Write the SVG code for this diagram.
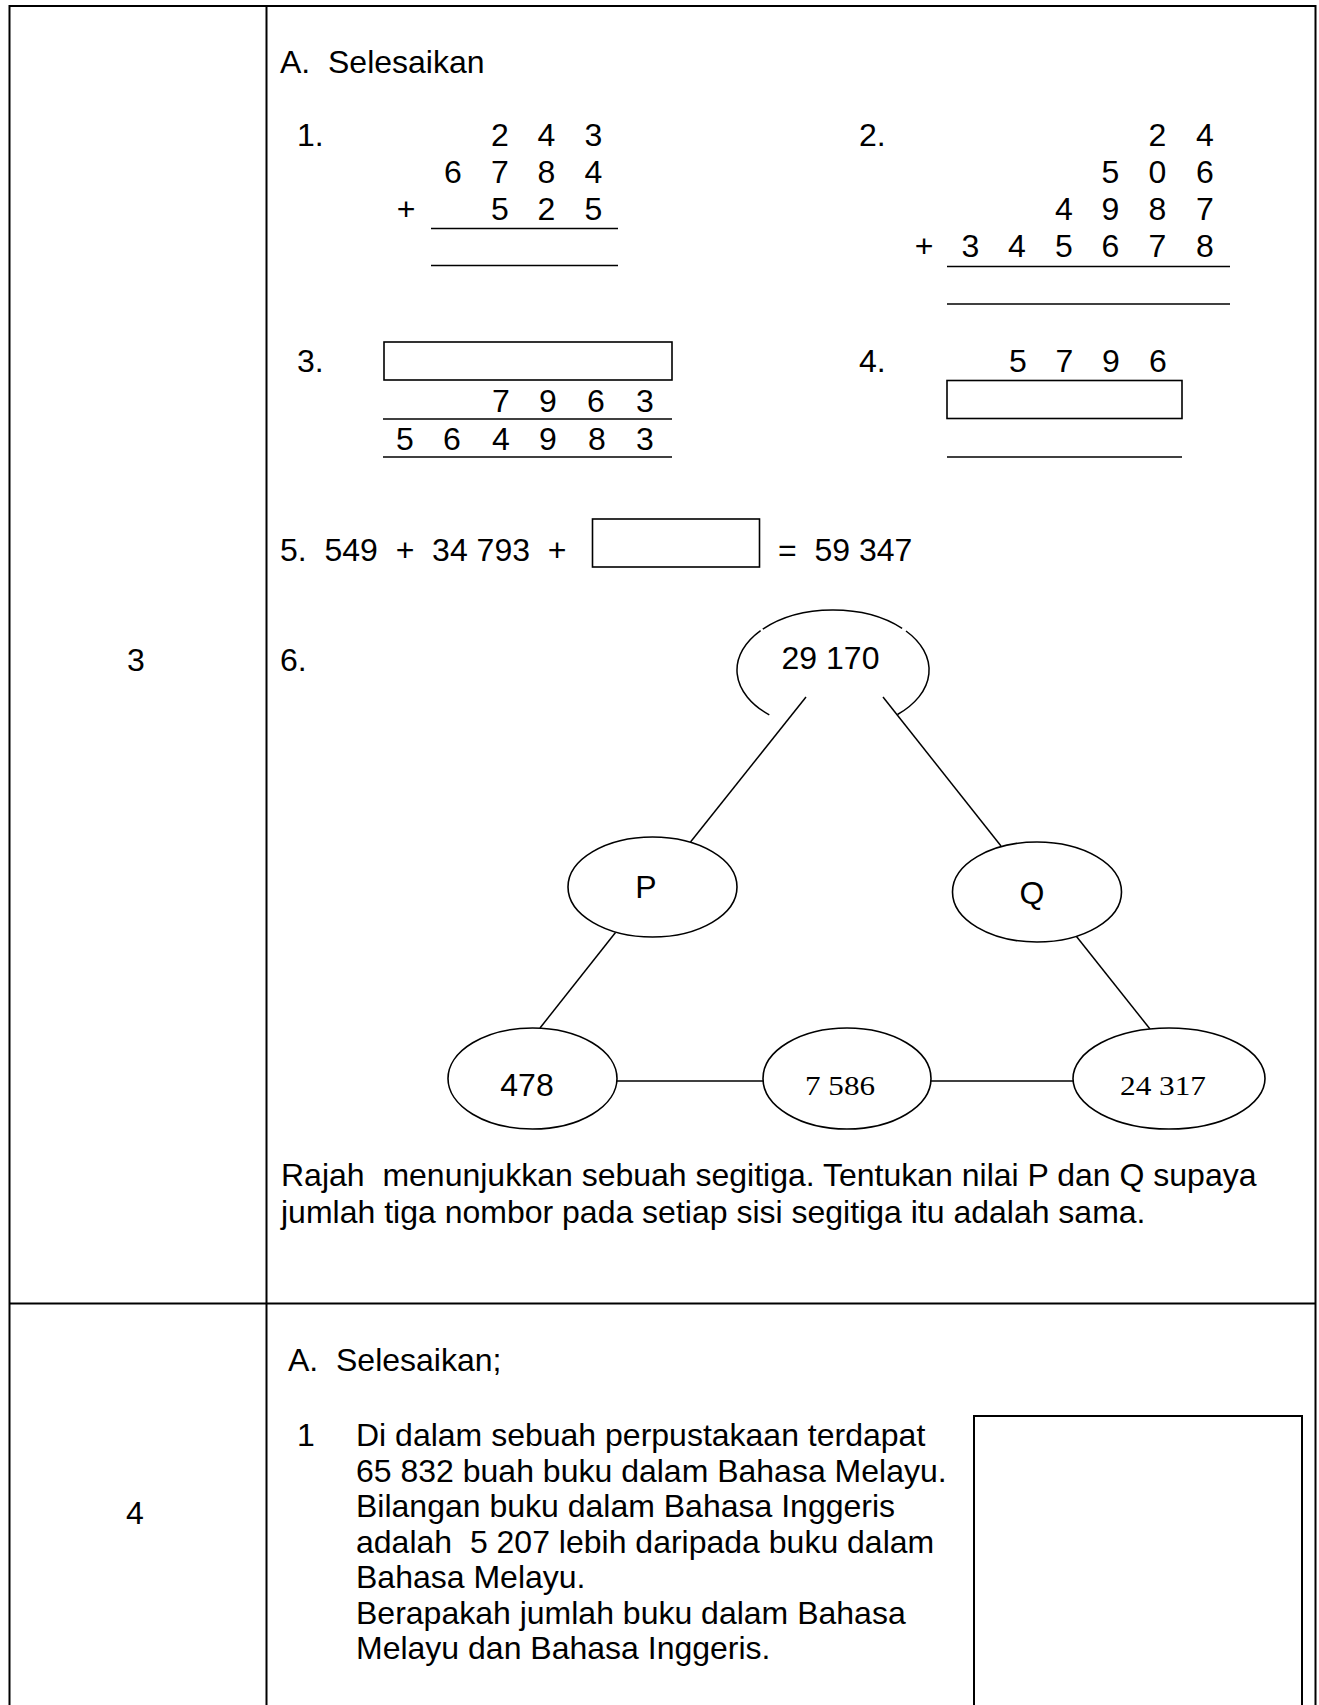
<svg xmlns="http://www.w3.org/2000/svg" width="1319" height="1705" viewBox="0 0 1319 1705">
<style>
.t{font-family:"Liberation Sans",Arial,sans-serif;font-size:32px;fill:#000;white-space:pre}
.m{text-anchor:middle}
.s{font-family:"Liberation Serif","Times New Roman",serif;font-size:28px;fill:#000;text-anchor:middle}
.ln{stroke:#000;stroke-width:2;fill:none}
.th{stroke:#000;stroke-width:1.6;fill:none}
.bx{stroke:#000;stroke-width:1.6;fill:#fff}
.el{stroke:#000;stroke-width:1.6;fill:#fff}
.cn{stroke:#000;stroke-width:1.5;fill:none}
</style>
<rect x="0" y="0" width="1319" height="1705" fill="#fff"/>
<g id="table">
<line class="ln" x1="9.5" y1="6" x2="1315.5" y2="6"/>
<line class="ln" x1="9.5" y1="5" x2="9.5" y2="1705"/>
<line class="ln" x1="266.5" y1="5" x2="266.5" y2="1705"/>
<line class="ln" x1="1315.5" y1="5" x2="1315.5" y2="1705"/>
<line class="ln" x1="9.5" y1="1303.5" x2="1315.5" y2="1303.5"/>
<text class="t m" x="136" y="671">3</text>
<text class="t m" x="135" y="1524">4</text>
</g>
<g id="row3">
<text class="t" x="280" y="73">A.  Selesaikan</text>
<g id="q1">
<text class="t" x="297" y="146">1.</text>
<text class="t m" x="500" y="146">2</text><text class="t m" x="546.5" y="146">4</text><text class="t m" x="593.5" y="146">3</text>
<text class="t m" x="453" y="183">6</text><text class="t m" x="500" y="183">7</text><text class="t m" x="546.5" y="183">8</text><text class="t m" x="593.5" y="183">4</text>
<text class="t m" x="406" y="219.5">+</text>
<text class="t m" x="500" y="219.5">5</text><text class="t m" x="546.5" y="219.5">2</text><text class="t m" x="593.5" y="219.5">5</text>
<line class="th" x1="431" y1="228.5" x2="618" y2="228.5"/>
<line class="th" x1="431" y1="265.5" x2="618" y2="265.5"/>
</g>
<g id="q2">
<text class="t" x="859" y="146">2.</text>
<text class="t m" x="1157.5" y="146">2</text><text class="t m" x="1205" y="146">4</text>
<text class="t m" x="1110.5" y="183">5</text><text class="t m" x="1157.5" y="183">0</text><text class="t m" x="1205" y="183">6</text>
<text class="t m" x="1064" y="219.5">4</text><text class="t m" x="1110.5" y="219.5">9</text><text class="t m" x="1157.5" y="219.5">8</text><text class="t m" x="1205" y="219.5">7</text>
<text class="t m" x="924" y="257">+</text>
<text class="t m" x="970.5" y="257">3</text><text class="t m" x="1017" y="257">4</text><text class="t m" x="1064" y="257">5</text><text class="t m" x="1110.5" y="257">6</text><text class="t m" x="1157.5" y="257">7</text><text class="t m" x="1205" y="257">8</text>
<line class="th" x1="947" y1="266.5" x2="1230" y2="266.5"/>
<line class="th" x1="947" y1="304" x2="1230" y2="304"/>
</g>
<g id="q3">
<text class="t" x="297" y="372">3.</text>
<rect class="bx" x="384" y="342" width="288" height="38"/>
<text class="t m" x="501" y="412">7</text><text class="t m" x="548" y="412">9</text><text class="t m" x="596" y="412">6</text><text class="t m" x="645" y="412">3</text>
<line class="th" x1="383" y1="419" x2="672" y2="419"/>
<text class="t m" x="405" y="450">5</text><text class="t m" x="452" y="450">6</text><text class="t m" x="501" y="450">4</text><text class="t m" x="548" y="450">9</text><text class="t m" x="597" y="450">8</text><text class="t m" x="645" y="450">3</text>
<line class="th" x1="383" y1="457" x2="672" y2="457"/>
</g>
<g id="q4">
<text class="t" x="859" y="372">4.</text>
<text class="t m" x="1018" y="372">5</text><text class="t m" x="1064.5" y="372">7</text><text class="t m" x="1111" y="372">9</text><text class="t m" x="1158" y="372">6</text>
<rect class="bx" x="947" y="380.5" width="235" height="38"/>
<line class="th" x1="947" y1="457" x2="1182" y2="457"/>
</g>
<g id="q5">
<text class="t" x="280" y="561">5.  549  +  34 793  +</text>
<rect class="bx" x="592.5" y="519" width="167" height="48"/>
<text class="t" x="778" y="561">=  59 347</text>
</g>
<text class="t" x="280" y="671">6.</text>
<g id="connectors">
<line class="cn" x1="806" y1="697" x2="690.5" y2="842"/>
<line class="cn" x1="883" y1="697" x2="1001" y2="846"/>
<line class="cn" x1="615.5" y1="932.5" x2="540" y2="1028"/>
<line class="cn" x1="1076.5" y1="936.5" x2="1150" y2="1029"/>
<line class="cn" x1="617" y1="1081" x2="763" y2="1081" stroke-width="2"/>
<line class="cn" x1="931" y1="1081" x2="1073" y2="1081" stroke-width="2"/>
</g>
<g id="node-top">
<path class="cn" d="M769.3,714.9 A96,60 0 0 1 760.6,630.6"/>
<path class="cn" d="M762.8,629.1 A96,60 0 0 1 902.1,628.3"/>
<path class="cn" d="M906,631 A96,60 0 0 1 897.5,714.5"/>
<text class="t m" x="830.5" y="669">29 170</text>
</g>
<g id="node-p">
<ellipse class="el" cx="652.5" cy="887" rx="84.5" ry="50"/>
<text class="t m" x="646" y="898">P</text>
</g>
<g id="node-q">
<ellipse class="el" cx="1037" cy="892" rx="84.5" ry="50"/>
<text class="t m" x="1032" y="904">Q</text>
</g>
<g id="node-478">
<ellipse class="el" cx="532.5" cy="1078.5" rx="84.5" ry="50.5"/>
<text class="t m" x="527" y="1096">478</text>
</g>
<g id="node-7586">
<ellipse class="el" cx="847" cy="1078.5" rx="84" ry="50.5"/>
<text class="s" x="840" y="1095" textLength="70" lengthAdjust="spacingAndGlyphs">7 586</text>
</g>
<g id="node-24317">
<ellipse class="el" cx="1169" cy="1078.5" rx="96" ry="50.5"/>
<text class="s" x="1163" y="1095" textLength="86" lengthAdjust="spacingAndGlyphs">24 317</text>
</g>
<text class="t" x="281" y="1186">Rajah  menunjukkan sebuah segitiga. Tentukan nilai P dan Q supaya</text>
<text class="t" x="281" y="1223">jumlah tiga nombor pada setiap sisi segitiga itu adalah sama.</text>
</g>
<g id="row4">
<text class="t" x="288" y="1371">A.  Selesaikan;</text>
<text class="t" x="297" y="1446">1</text>
<text class="t" x="356" y="1446">Di dalam sebuah perpustakaan terdapat</text>
<text class="t" x="356" y="1481.5">65 832 buah buku dalam Bahasa Melayu.</text>
<text class="t" x="356" y="1517">Bilangan buku dalam Bahasa Inggeris</text>
<text class="t" x="356" y="1552.5">adalah  5 207 lebih daripada buku dalam</text>
<text class="t" x="356" y="1588">Bahasa Melayu.</text>
<text class="t" x="356" y="1623.5">Berapakah jumlah buku dalam Bahasa</text>
<text class="t" x="356" y="1659">Melayu dan Bahasa Inggeris.</text>
<path class="ln" d="M974,1710 V1416 H1302 V1710"/>
</g>
</svg>
